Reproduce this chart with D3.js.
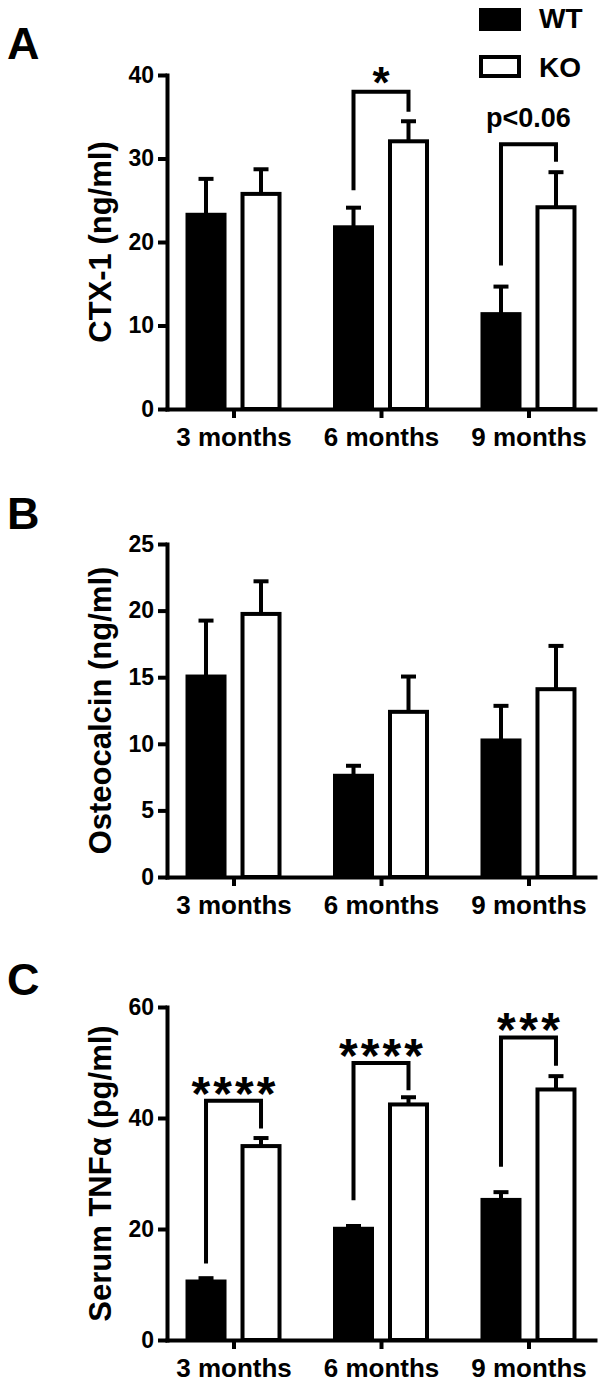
<!DOCTYPE html>
<html>
<head>
<meta charset="utf-8">
<script src="https://cdn.jsdelivr.net/npm/d3@7"></script>
<style>
  html, body { margin: 0; padding: 0; background: #fff; }
  svg { display: block; }
  text { font-family: "Liberation Sans", Arial, sans-serif; fill: #000; }
</style>
</head>
<body>
<svg id="chart" width="602" height="1385"></svg>
<script>
// ---------------- DATA ----------------
const months = ["3 months", "6 months", "9 months"];
const genotypes = ["WT", "KO"];

// Panel A: CTX-1 (ng/ml)
const ctxWT = [23.5, 22.0, 11.6];
const ctxWTsem = [4.3, 2.35, 3.3];
const ctxKO = [26.0, 32.3, 24.4];
const ctxKOsem = [2.95, 2.4, 4.2];
const ctxTicks = [0, 10, 20, 30, 40];
const ctxBrackets = [
  { month: "6 months", top: 38.0, left: 26.2, right: 35.6, label: "*" },
  { month: "9 months", top: 31.7, left: 17.2, right: 29.6, label: "p<0.06" }
];

// Panel B: Osteocalcin (ng/ml)
const ocWT = [15.2, 7.75, 10.4];
const ocWTsem = [4.2, 0.75, 2.6];
const ocKO = [19.9, 12.55, 14.25];
const ocKOsem = [2.45, 2.65, 3.25];
const ocTicks = [0, 5, 10, 15, 20, 25];
const ocBrackets = [];

// Panel C: Serum TNFa (pg/ml)
const tnfWT = [10.9, 20.4, 25.6];
const tnfWTsem = [0.6, 0.5, 1.4];
const tnfKO = [35.3, 42.8, 45.5];
const tnfKOsem = [1.45, 1.3, 2.4];
const tnfTicks = [0, 20, 40, 60];
const tnfBrackets = [
  { month: "3 months", top: 43.1, left: 13.8, right: 38.1, label: "****" },
  { month: "6 months", top: 49.9, left: 25.2, right: 45.0, label: "****" },
  { month: "9 months", top: 54.5, left: 31.2, right: 49.4, label: "***" }
];

// ---------------- DRAWING ----------------
const svg = d3.select("#chart");
const FONT = '"Liberation Sans", Arial, sans-serif';
const SW = 4;

const panels = [
  { letter: "A", title: "CTX-1 (ng/ml)", wt: ctxWT, wtSem: ctxWTsem, ko: ctxKO, koSem: ctxKOsem,
    ticks: ctxTicks, brackets: ctxBrackets, y0: 409, y1: 75, letterY: 59 },
  { letter: "B", title: "Osteocalcin (ng/ml)", wt: ocWT, wtSem: ocWTsem, ko: ocKO, koSem: ocKOsem,
    ticks: ocTicks, brackets: ocBrackets, y0: 877, y1: 544, letterY: 529 },
  { letter: "C", title: "Serum TNF\u03b1 (pg/ml)", wt: tnfWT, wtSem: tnfWTsem, ko: tnfKO, koSem: tnfKOsem,
    ticks: tnfTicks, brackets: tnfBrackets, y0: 1340, y1: 1007, letterY: 995 }
];

const xLeft = 167, xRight = 595;

panels.forEach(p => {
  const g = svg.append("g");
  const yMax = p.ticks[p.ticks.length - 1];
  const y = d3.scaleLinear().domain([0, yMax]).range([p.y0, p.y1]);
  const x = d3.scalePoint().domain(months).range([xLeft, xRight]).padding(0.451);
  const xg = d3.scaleBand().domain(genotypes).range([-48, 48]).paddingInner(0.2545).paddingOuter(0);

  const rows = [];
  months.forEach((m, i) => {
    rows.push({ month: m, geno: "WT", v: p.wt[i], sem: p.wtSem[i] });
    rows.push({ month: m, geno: "KO", v: p.ko[i], sem: p.koSem[i] });
  });

  // error bars (upper only)
  const eb = g.append("g");
  rows.forEach(d => {
    const cx = x(d.month) + xg(d.geno) + xg.bandwidth() / 2;
    const yt = y(d.v + d.sem);
    eb.append("line").attr("x1", cx).attr("x2", cx)
      .attr("y1", y(d.v) + 2).attr("y2", yt + 2)
      .attr("stroke", "#000").attr("stroke-width", SW);
    eb.append("line").attr("x1", cx - 7.5).attr("x2", cx + 7.5)
      .attr("y1", yt + 2).attr("y2", yt + 2)
      .attr("stroke", "#000").attr("stroke-width", SW);
  });

  // bars
  g.append("g").selectAll("rect").data(rows).join("rect")
    .attr("x", d => x(d.month) + xg(d.geno) + 2)
    .attr("width", xg.bandwidth() - 4)
    .attr("y", d => y(d.v) + 2)
    .attr("height", d => y(0) - y(d.v) - 2)
    .attr("fill", d => d.geno === "WT" ? "#000" : "#fff")
    .attr("stroke", "#000").attr("stroke-width", SW);

  // y axis
  const ya = g.append("g").attr("transform", `translate(${xLeft},0)`)
    .call(d3.axisLeft(y).tickValues(p.ticks).tickSize(9).tickSizeOuter(0).tickPadding(4));
  ya.select(".domain").attr("stroke-width", SW).attr("stroke-linecap", "square");
  ya.selectAll(".tick line").attr("stroke-width", SW);
  ya.selectAll(".tick text").attr("font-family", FONT).attr("font-size", 23).attr("font-weight", "bold");

  // x axis
  const xa = g.append("g").attr("transform", `translate(0,${p.y0})`)
    .call(d3.axisBottom(x).tickSize(9).tickSizeOuter(0).tickPadding(10));
  xa.select(".domain").attr("stroke-width", SW).attr("stroke-linecap", "square");
  xa.selectAll(".tick line").attr("stroke-width", SW);
  xa.selectAll(".tick text").attr("font-family", FONT).attr("font-size", 26).attr("font-weight", "bold");

  // y title
  g.append("text")
    .attr("transform", `translate(111,${(p.y0 + p.y1) / 2}) rotate(-90)`)
    .attr("text-anchor", "middle")
    .attr("font-size", 31).attr("font-weight", "bold")
    .text(p.title);

  // panel letter
  g.append("text").attr("x", 7).attr("y", p.letterY)
    .attr("font-size", 45).attr("font-weight", "bold").text(p.letter);

  // significance brackets
  p.brackets.forEach(b => {
    const lx = x(b.month) + xg("WT") + xg.bandwidth() / 2;
    const rx = x(b.month) + xg("KO") + xg.bandwidth() / 2;
    const path = d3.path();
    path.moveTo(lx, y(b.left));
    path.lineTo(lx, y(b.top));
    path.lineTo(rx, y(b.top));
    path.lineTo(rx, y(b.right));
    g.append("path").attr("d", path.toString())
      .attr("fill", "none").attr("stroke", "#000").attr("stroke-width", SW)
      .attr("stroke-linejoin", "miter");
    const mx = (lx + rx) / 2;
    if (b.label.startsWith("*")) {
      const n = b.label.length;
      const fs = n === 1 ? 44 : 48;
      const t = g.append("text").attr("x", mx).attr("y", y(b.top) - 18 + 0.56 * fs)
        .attr("text-anchor", "middle").attr("font-size", fs).attr("font-weight", "bold")
        .text(b.label);
      if (n > 1) t.attr("textLength", n * 21).attr("lengthAdjust", "spacing");
    } else {
      g.append("text").attr("x", mx).attr("y", y(b.top) - 17)
        .attr("text-anchor", "middle").attr("font-size", 27).attr("font-weight", "bold")
        .text(b.label);
    }
  });
});

// legend
const leg = svg.append("g");
const legItems = genotypes.map((gname, i) => ({ name: gname, i }));
leg.selectAll("rect").data(legItems).join("rect")
  .attr("x", 481).attr("y", d => d.i === 0 ? 10 : 57)
  .attr("width", 38).attr("height", 19)
  .attr("fill", d => d.i === 0 ? "#000" : "#fff")
  .attr("stroke", "#000").attr("stroke-width", SW);
leg.selectAll("text").data(legItems).join("text")
  .attr("x", 539).attr("y", d => d.i === 0 ? 28 : 77)
  .attr("font-size", 28).attr("font-weight", "bold")
  .text(d => d.name);
</script>
</body>
</html>
